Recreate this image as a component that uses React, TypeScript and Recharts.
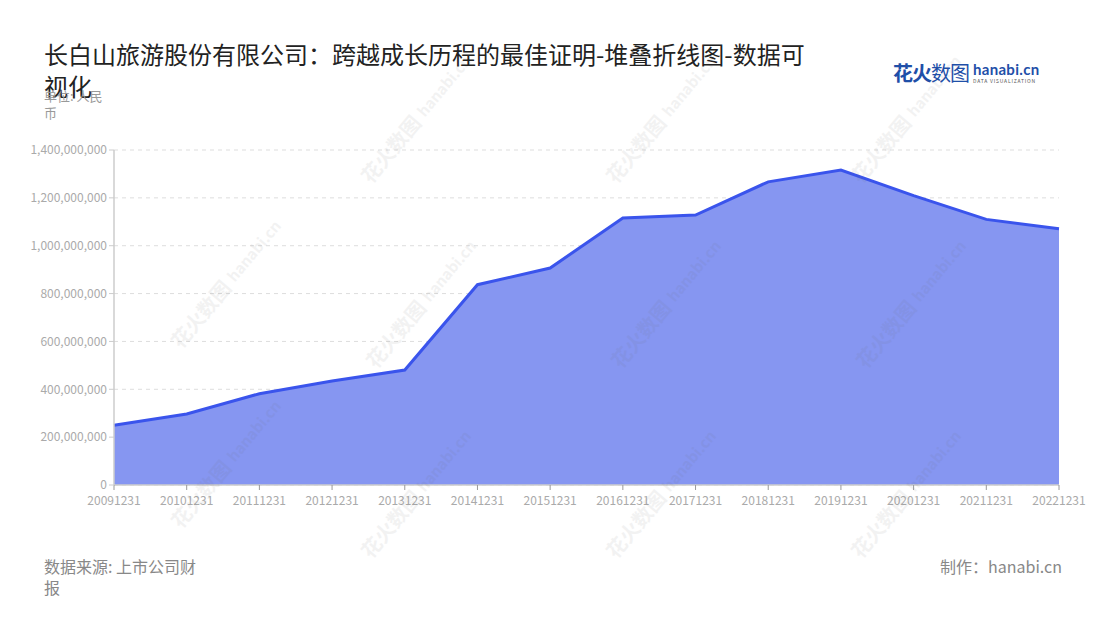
import React from "react";
import { Area, AreaChart, CartesianGrid, XAxis, YAxis } from "recharts";

const periods = [
  "20091231", "20101231", "20111231", "20121231", "20131231", "20141231", "20151231",
  "20161231", "20171231", "20181231", "20191231", "20201231", "20211231", "20221231",
];

// 营业收入 (元)
const revenue = [
  249500000, 296700000, 381600000, 434600000, 480600000, 837000000, 906800000,
  1115800000, 1128000000, 1267000000, 1316000000, 1209000000, 1110000000, 1071000000,
];

const yTicks = [0, 200000000, 400000000, 600000000, 800000000, 1000000000, 1200000000, 1400000000];

const rows = periods.map((p, i) => ({ period: p, revenue: revenue[i] }));

const FONT = '"Noto Sans CJK SC", "Noto Sans", sans-serif';

// faint diagonal watermark positions (centre points)
const marks = [
  [405, 135], [650, 135], [895, 135],
  [215, 300], [410, 320], [655, 320], [900, 320],
  [215, 480], [405, 510], [650, 510], [895, 510],
];

function Watermarks() {
  return (
    <svg width={1100} height={620} style={{ position: "absolute", left: 0, top: 0, pointerEvents: "none" }}>
      {marks.map(([x, y], i) => (
        <g key={i} transform={`translate(${x},${y}) rotate(-50)`} opacity={0.08} fill="#666" fontFamily={FONT}>
          <text x={-60} y={6} fontSize={20} fontWeight={700}>花火数图</text>
          <text x={26} y={4} fontSize={15} fontWeight={700}>hanabi.cn</text>
        </g>
      ))}
    </svg>
  );
}

export default function App() {
  return (
    <div style={{ position: "absolute", left: 0, top: 0, width: 1100, height: 620, background: "#fff", fontFamily: FONT }}>
      <AreaChart width={1100} height={620} data={rows} margin={{ top: 150, right: 41, left: 0, bottom: 105 }}>
        <CartesianGrid stroke="#dddddd" strokeDasharray="4 4" vertical={false} />
        <XAxis
          dataKey="period"
          interval={0}
          tick={{ fontSize: 12, fill: "#aaaaaa", fontFamily: FONT }}
          tickLine={{ stroke: "#999" }}
          tickSize={5}
          tickMargin={6}
          axisLine={{ stroke: "#cccccc", strokeWidth: 1.5 }}
          height={30}
        />
        <YAxis
          width={114}
          domain={[0, 1400000000]}
          ticks={yTicks}
          interval={0}
          tick={{ fontSize: 12, fill: "#aaaaaa", fontFamily: FONT }}
          tickLine={{ stroke: "#cccccc" }}
          tickSize={5}
          axisLine={{ stroke: "#cccccc", strokeWidth: 1.5 }}
          tickFormatter={(v: number) => v.toLocaleString("en-US")}
        />
        <Area
          type="linear"
          dataKey="revenue"
          stroke="#3a54ec"
          strokeWidth={3}
          fill="#8696f1"
          fillOpacity={1}
          dot={false}
          activeDot={false}
          isAnimationActive={false}
        />
      </AreaChart>

      <Watermarks />

      <div style={{ position: "absolute", left: 44, top: 38, width: 775, fontSize: 24, lineHeight: "32px", color: "#222" }}>
        长白山旅游股份有限公司：跨越成长历程的最佳证明-堆叠折线图-数据可视化
      </div>
      <div style={{ position: "absolute", left: 44, top: 87, width: 66, fontSize: 13, lineHeight: "17px", color: "#999" }}>
        单位: 人民币
      </div>

      <div style={{ position: "absolute", left: 893, top: 58, display: "flex", alignItems: "center", color: "#1f4fa8" }}>
        <span style={{ fontSize: 20, fontWeight: 700, letterSpacing: -1 }}>花火</span>
        <span style={{ fontSize: 20, fontWeight: 400, letterSpacing: -1 }}>数图</span>
        <span style={{ display: "flex", flexDirection: "column", marginLeft: 4 }}>
          <span style={{ fontSize: 15, fontWeight: 700, lineHeight: "15px", letterSpacing: 0.3, fontFamily: "Lato, sans-serif" }}>hanabi.cn</span>
          <span style={{ fontSize: 5, lineHeight: "7px", letterSpacing: 0.8, color: "#555" }}>DATA VISUALIZATION</span>
        </span>
      </div>

      <div style={{ position: "absolute", left: 44, top: 556, width: 160, fontSize: 16, lineHeight: "21px", color: "#888" }}>
        数据来源: 上市公司财报
      </div>
      <div style={{ position: "absolute", right: 38, top: 556, fontSize: 16, lineHeight: "21px", color: "#888" }}>
        制作：hanabi.cn
      </div>
    </div>
  );
}
